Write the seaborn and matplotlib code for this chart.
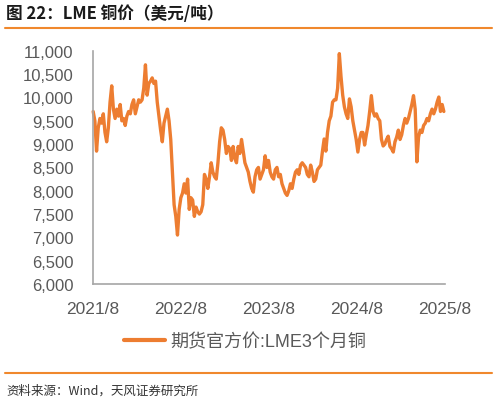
import numpy as np
import pandas as pd
import matplotlib
matplotlib.use("Agg")
import matplotlib.pyplot as plt
import seaborn as sns

# Weekly LME 3M copper (USD/t), starting 2021-08-02
v2021 = [9700, 9500, 8850, 9350, 9550, 9450, 9650, 9250, 9050, 9350, 9900, 10250,
         9750, 9550, 9750, 9600, 9850, 9500, 9550, 9400, 9600, 9700]
v2022 = [9650, 9850, 9950, 9650, 9800, 9950, 9900, 9950, 10200, 10700, 10050, 10300,
         10350, 10420, 10300, 10350, 9900, 9600, 9300, 9050, 9450, 9600, 9750, 9500,
         9100, 8400, 7700, 7450, 7050, 7600, 7850, 7950, 8150, 7950, 8250, 7600,
         7850, 7800, 7450, 7650, 7550, 7500, 7550, 7700, 8350, 8250, 8050, 8300,
         8600, 8400, 8300, 8250]
v2023 = [8600, 9050, 9350, 9300, 9100, 8800, 8950, 8900, 8650, 8950, 8700, 8600,
         8950, 8800, 9100, 8850, 8600, 8500, 8400, 8200, 8050, 7970, 8300, 8450,
         8500, 8250, 8350, 8450, 8750, 8500, 8650, 8400, 8300, 8250, 8450, 8500,
         8300, 8350, 8150, 8050, 7950, 7900, 8000, 8150, 8050, 8250, 8400, 8450,
         8350, 8550, 8600, 8550]
v2024 = [8500, 8350, 8300, 8550, 8400, 8200, 8250, 8450, 8500, 8550, 8850, 9110,
         8850, 9250, 9500, 9600, 9900, 9950, 9950, 10200, 10940, 10450, 10050, 9800,
         9650, 9550, 9970, 9800, 9500, 9300, 9100, 8830, 9100, 9250, 9250, 8980,
         9200, 9400, 9700, 10040, 9700, 9600, 9650, 9550, 9500, 9100, 8960, 9000,
         9100, 9170, 8950, 8900, 8830]
v2025 = [9050, 9150, 9300, 9100, 9200, 9400, 9550, 9450, 9550, 9700, 9850, 10040,
         9750, 8620, 9150, 9300, 9250, 9400, 9450, 9550, 9500, 9650, 9750, 9650,
         9750, 9900, 10010, 9700, 9850, 9700]

values = v2021 + v2022 + v2023 + v2024 + v2025
dates = pd.date_range("2021-08-02", periods=len(values), freq="7D")
df = pd.DataFrame({"date": dates, "price": values})

series_name = "期货官方价:LME3个月铜"
title = "图 22：LME 铜价（美元/吨）"
source = "资料来源：Wind，天风证券研究所"
xtick_dates = pd.to_datetime(["2021-08-01", "2022-08-01", "2023-08-01", "2024-08-01", "2025-08-01"])
xtick_labels = ["2021/8", "2022/8", "2023/8", "2024/8", "2025/8"]
yticks = [6000, 6500, 7000, 7500, 8000, 8500, 9000, 9500, 10000, 10500, 11000]

sns.set_theme(style="white")
plt.rcParams["font.family"] = ["Liberation Sans", "Noto Sans CJK SC", "DejaVu Sans"]

orange = "#ED7D31"
grey_txt = "#595959"
spine_c = "#A6A6A6"

fig = plt.figure(figsize=(4.97, 4.02), dpi=100)
ax = fig.add_axes([0.187, 0.291, 0.708, 0.580])

sns.lineplot(data=df, x="date", y="price", ax=ax, color=orange, linewidth=2.4,
             label=series_name, legend=False)

ax.set_xlim(xtick_dates[0], xtick_dates[-1])
ax.set_ylim(6000, 11000)
ax.set_xticks(xtick_dates)
ax.set_xticklabels(xtick_labels)
ax.set_yticks(yticks)
ax.set_yticklabels([f"{t:,}" for t in yticks])
ax.set_xlabel("")
ax.set_ylabel("")

for s in ["top", "right"]:
    ax.spines[s].set_visible(False)
for s in ["left", "bottom"]:
    ax.spines[s].set_color(spine_c)
    ax.spines[s].set_linewidth(1.2)
ax.tick_params(axis="both", direction="in", length=4, width=1.2, color=spine_c,
               labelcolor=grey_txt)
ax.tick_params(axis="y", pad=14, labelsize=12)
ax.tick_params(axis="x", pad=12, labelsize=12.5)
for ln in ax.get_lines():
    ln.set_clip_on(False)

handles, labels = ax.get_legend_handles_labels()
fig.legend(handles, labels, loc="center", bbox_to_anchor=(0.493, 0.148), frameon=False,
           fontsize=13, labelcolor=grey_txt, handlelength=2.3, handletextpad=0.3)
for h in fig.legends[0].get_lines():
    h.set_linewidth(3)

fig.text(0.012, 0.966, title, fontsize=12, fontweight="bold", color="#1a1a1a",
         family=["Noto Sans CJK SC", "DejaVu Sans"], va="center", ha="left")
fig.add_artist(plt.Line2D([0.01, 0.99], [0.928, 0.928], transform=fig.transFigure,
                          color="#F0882C", linewidth=1.5))
fig.add_artist(plt.Line2D([0.01, 0.99], [0.07, 0.07], transform=fig.transFigure,
                          color="#F0882C", linewidth=1.5))
fig.text(0.012, 0.028, source, fontsize=9, color="#333333",
         family=["Noto Sans CJK SC", "DejaVu Sans"], va="center", ha="left")

fig.savefig("out.png", dpi=100)
